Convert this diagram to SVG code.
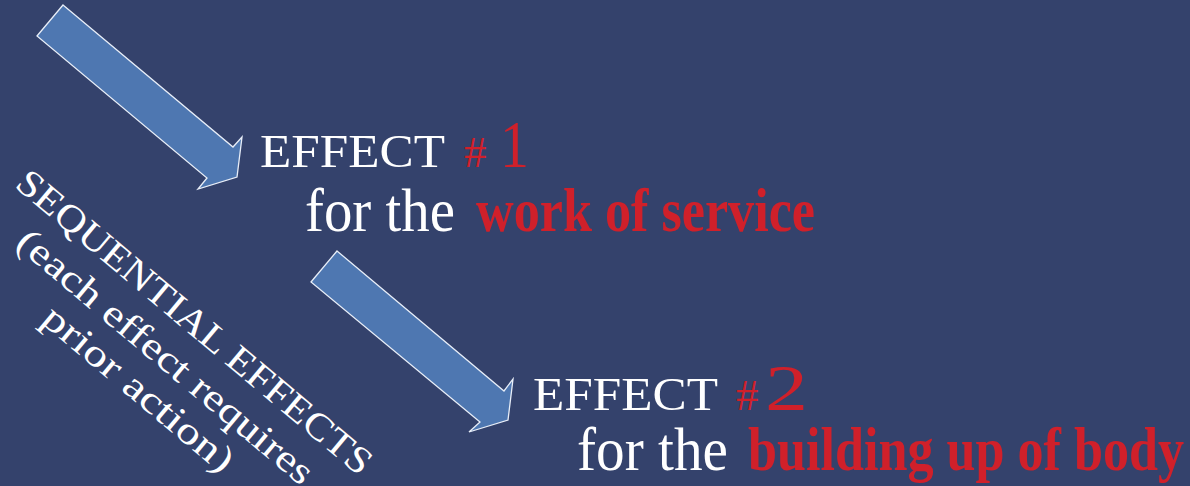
<svg xmlns="http://www.w3.org/2000/svg" width="1190" height="486" viewBox="0 0 1190 486">
<style>
.arrow{fill:#4E77B1;stroke:#E8EEF8;stroke-width:1.3;stroke-linejoin:miter}
.w{fill:#FFFFFF;font-family:"Liberation Serif","Times New Roman",serif}
.r{fill:#D0202A;font-family:"Liberation Serif","Times New Roman",serif}
.b{font-weight:bold}
</style>
<rect width="1190" height="486" fill="#34426C"/>
<g id="connectors">
<polygon class="arrow" points="63,5 233,147 242,137 237,177 198,189 207,178 37,36"/>
<polygon class="arrow" points="337,251 504,391 513,379 508,420 469,432 480,422 311,282"/>
</g>
<g id="effect1">
<text class="w" x="260" y="167" font-size="46" textLength="185" lengthAdjust="spacingAndGlyphs">EFFECT</text>
<text class="r" x="464" y="167" font-size="45">#</text>
<text class="r" x="500" y="167" font-size="68" textLength="29" lengthAdjust="spacingAndGlyphs">1</text>
<text class="w" x="305" y="231" font-size="62" textLength="150" lengthAdjust="spacingAndGlyphs">for the</text>
<text class="r b" x="476" y="231" font-size="62" textLength="339" lengthAdjust="spacingAndGlyphs">work of service</text>
</g>
<g id="effect2">
<text class="w" x="533" y="410" font-size="46" textLength="185" lengthAdjust="spacingAndGlyphs">EFFECT</text>
<text class="r" x="736" y="410" font-size="45">#</text>
<text class="r" x="765" y="410" font-size="66" textLength="43" lengthAdjust="spacingAndGlyphs">2</text>
<text class="w" x="577" y="470" font-size="62" textLength="151" lengthAdjust="spacingAndGlyphs">for the</text>
<text class="r b" x="748" y="470" font-size="62" textLength="436" lengthAdjust="spacingAndGlyphs">building up of body</text>
</g>
<g id="sequential" transform="rotate(40)">
<text class="w" x="356" y="134" font-size="38" text-anchor="middle" textLength="452" lengthAdjust="spacingAndGlyphs">SEQUENTIAL EFFECTS</text>
<text class="w" x="356" y="179" font-size="38" text-anchor="middle" textLength="375" lengthAdjust="spacingAndGlyphs">(each effect requires</text>
<text class="w" x="356" y="221" font-size="38" text-anchor="middle" textLength="238" lengthAdjust="spacingAndGlyphs">prior action)</text>
</g>
</svg>
